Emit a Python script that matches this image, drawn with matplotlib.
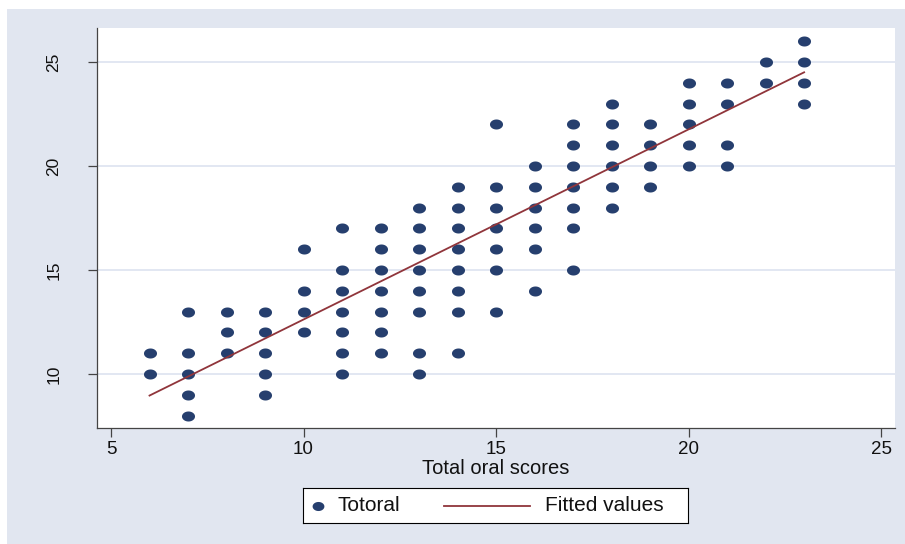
import matplotlib
matplotlib.use("Agg")
import matplotlib.pyplot as plt
from matplotlib.patches import Rectangle
from matplotlib.path import Path
import numpy as np

plt.rcParams['font.family'] = ['Liberation Sans', 'DejaVu Sans']

# oral score -> total scores observed at that oral score
ORAL_SCORES = [6, 7, 8, 9, 10, 11, 12, 13, 14, 15, 16, 17, 18, 19, 20, 21, 22, 23]
TOTAL_BY_ORAL = [
    [11, 10],
    [13, 11, 10, 9, 8],
    [13, 12, 11],
    [13, 12, 11, 10, 9],
    [16, 14, 13, 12],
    [17, 15, 14, 13, 12, 11, 10],
    [17, 16, 15, 14, 13, 12, 11],
    [18, 17, 16, 15, 14, 13, 11, 10],
    [19, 18, 17, 16, 15, 14, 13, 11],
    [22, 19, 18, 17, 16, 15, 13],
    [20, 19, 18, 17, 16, 14],
    [22, 21, 20, 19, 18, 17, 15],
    [23, 22, 21, 20, 19, 18],
    [22, 21, 20, 19],
    [24, 23, 22, 21, 20],
    [24, 23, 21, 20],
    [25, 24],
    [26, 25, 24, 23],
]

# fitted values line (endpoints)
FIT_X = [6, 23]
FIT_Y = [8.96, 24.5]

XTICKS = [5, 10, 15, 20, 25]
YTICKS = [10, 15, 20, 25]

NAVY = "#263F6E"
MAROON = "#90353B"
BG = "#E1E6F0"
GRID = "#DFE5F1"
TXT = "#111111"

W, H = 905, 544

xs = []
ys = []
for x, vals in zip(ORAL_SCORES, TOTAL_BY_ORAL):
    for v in vals:
        xs.append(x)
        ys.append(v)

# slightly wide ellipse marker, like the stretched Stata dots
t = np.linspace(0, 2 * np.pi, 40)
ellipse = Path(np.column_stack([1.3 * np.cos(t), np.sin(t)]), closed=True)

fig = plt.figure(figsize=(W / 100, H / 100), dpi=100, facecolor="white")
bg = Rectangle((7 / W, 0), 1 - 7 / W, 1 - 9 / H,
               transform=fig.transFigure, facecolor=BG,
               edgecolor="none", zorder=-10)
fig.add_artist(bg)

ax = fig.add_axes([97 / W, (H - 428) / H, (895 - 97) / W, (428 - 28) / H])
ax.set_facecolor("white")

ax.plot(xs, ys, linestyle="none", marker=ellipse, ms=9.4,
        mfc=NAVY, mec=NAVY, mew=0, zorder=3)
ax.plot(FIT_X, FIT_Y, color=MAROON, lw=1.3, zorder=4)

ax.set_xlim(4.636, 25.36)
ax.set_ylim(7.40, 26.63)
ax.set_xticks(XTICKS)
ax.set_yticks(YTICKS)
ax.grid(axis="y", color=GRID, lw=1.3)
ax.set_axisbelow(True)

for s in ["top", "right"]:
    ax.spines[s].set_visible(False)
for s in ["left", "bottom"]:
    ax.spines[s].set_color("#444444")
    ax.spines[s].set_linewidth(0.9)

ax.tick_params(axis="both", length=6.5, width=0.9,
               color="#444444", labelcolor=TXT)
ax.tick_params(axis="x", pad=3, labelsize=13.5)
ax.tick_params(axis="y", pad=19, labelsize=12.5)
for lab in ax.get_yticklabels():
    lab.set_rotation(90)
    lab.set_va("center")

ax.set_xlabel("Total oral scores", fontsize=14.5, color=TXT, va="center")
ax.xaxis.set_label_coords(0.5, -0.10)

# legend box drawn in its own small axes (pixel units)
lx0, lx1, ly0, ly1 = 303, 688, 488, 523
lax = fig.add_axes([lx0 / W, (H - ly1) / H, (lx1 - lx0) / W, (ly1 - ly0) / H])
lax.set_xlim(0, lx1 - lx0)
lax.set_ylim(0, ly1 - ly0)
lax.set_xticks([])
lax.set_yticks([])
lax.set_facecolor("white")
for s in lax.spines.values():
    s.set_color("black")
    s.set_linewidth(0.8)
mid = (ly1 - ly0) / 2
lax.plot([15], [mid], linestyle="none", marker=ellipse, ms=8.5,
         mfc=NAVY, mec=NAVY, mew=0)
lax.text(34, mid, "Totoral", fontsize=15, va="center", ha="left", color=TXT)
lax.plot([141, 227], [mid, mid], color=MAROON, lw=1.3)
lax.text(242, mid, "Fitted values", fontsize=15, va="center", ha="left", color=TXT)

fig.savefig("out.png", dpi=100, facecolor=fig.get_facecolor())
